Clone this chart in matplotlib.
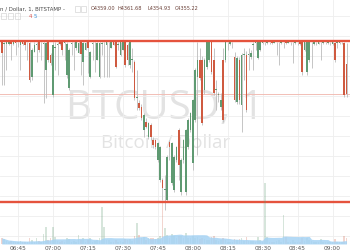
import matplotlib
matplotlib.use("Agg")
import matplotlib.pyplot as plt
import numpy as np
import pandas as pd

# 1-minute BTCUSD candles, 06:38 .. 09:06 (Bitstamp)
opens = [
    4361.7, 4361.5, 4361.5, 4361.5, 4361.7, 4361.5, 4361.7, 4361.7, 4361.4, 4361.7,
    4361.7, 4361.7, 4361.6, 4357.4, 4360.5, 4361.4, 4361.7, 4361.7, 4361.5, 4358.2,
    4361.7, 4360.1, 4355.1, 4361.0, 4361.4, 4361.7, 4361.7, 4361.6, 4357.6, 4356.0,
    4361.5, 4361.7, 4361.0, 4360.4, 4361.7, 4359.2, 4360.8, 4361.7, 4357.4, 4361.5,
    4361.7, 4359.5, 4357.4, 4361.5, 4361.7, 4361.4, 4361.7, 4361.0, 4361.7, 4361.7,
    4361.4, 4360.1, 4360.8, 4361.7, 4361.4, 4358.9, 4359.5, 4359.2, 4354.8, 4354.1,
    4353.6, 4350.8, 4351.8, 4349.9, 4351.4, 4349.5, 4349.5, 4347.0, 4344.5, 4344.5,
    4343.2, 4342.0, 4349.2, 4344.1, 4343.2, 4347.0, 4350.8, 4343.0, 4347.0, 4343.0,
    4348.6, 4350.8, 4346.6, 4352.0, 4357.4, 4359.5, 4359.5, 4355.8, 4358.6, 4359.5,
    4361.7, 4359.5, 4355.8, 4355.1, 4353.6, 4359.5, 4359.5, 4361.7, 4361.5, 4361.7,
    4359.9, 4354.2, 4359.5, 4353.9, 4360.1, 4360.1, 4360.1, 4359.9, 4361.4, 4361.6,
    4359.8, 4360.8, 4361.6, 4361.7, 4361.6, 4361.7, 4361.7, 4361.6, 4361.7, 4361.7,
    4361.6, 4361.7, 4361.7, 4361.6, 4361.7, 4361.7, 4361.6, 4361.7, 4361.7, 4361.7,
    4360.8, 4358.0, 4359.5, 4361.7, 4361.5, 4361.7, 4361.5, 4361.7, 4361.6, 4361.7,
    4361.6, 4361.7, 4361.5, 4361.6, 4361.6, 4361.6, 4361.7, 4361.6, 4359.00,
]
highs = [
    4361.7, 4361.7, 4361.7, 4361.7, 4361.7, 4361.7, 4361.7, 4361.7, 4361.7, 4361.7,
    4361.7, 4361.7, 4361.7, 4361.0, 4361.7, 4361.7, 4361.7, 4361.7, 4361.7, 4361.7,
    4361.7, 4360.4, 4361.7, 4361.7, 4361.7, 4361.7, 4361.7, 4361.7, 4361.7, 4361.0,
    4361.7, 4361.7, 4361.7, 4361.7, 4361.7, 4361.7, 4361.7, 4361.7, 4360.6, 4361.7,
    4361.7, 4361.7, 4361.7, 4361.7, 4361.7, 4361.7, 4361.7, 4361.7, 4361.7, 4361.7,
    4361.7, 4361.7, 4361.7, 4361.7, 4361.6, 4361.7, 4361.0, 4359.5, 4358.2, 4354.5,
    4354.0, 4352.9, 4352.2, 4351.8, 4351.6, 4349.9, 4349.6, 4349.3, 4348.8, 4344.8,
    4345.1, 4347.6, 4349.5, 4349.3, 4347.6, 4348.8, 4351.0, 4347.2, 4349.6, 4350.9,
    4352.2, 4353.0, 4354.6, 4358.5, 4361.7, 4361.0, 4360.0, 4359.8, 4361.7, 4361.7,
    4361.7, 4361.0, 4357.0, 4355.5, 4355.4, 4361.0, 4361.7, 4361.7, 4361.7, 4361.7,
    4360.5, 4360.0, 4359.9, 4360.4, 4361.0, 4360.6, 4361.0, 4360.8, 4361.7, 4361.7,
    4361.7, 4361.7, 4361.7, 4361.7, 4361.7, 4361.7, 4361.7, 4361.7, 4361.7, 4361.7,
    4361.7, 4361.7, 4361.7, 4361.7, 4361.7, 4361.7, 4361.7, 4361.7, 4361.7, 4361.7,
    4361.7, 4361.7, 4361.7, 4361.7, 4361.7, 4361.7, 4361.7, 4361.7, 4361.7, 4361.7,
    4361.7, 4361.7, 4361.7, 4361.7, 4361.7, 4361.7, 4361.7, 4361.7, 4361.68,
]
lows = [
    4356.4, 4356.4, 4358.2, 4361.4, 4359.5, 4361.4, 4360.1, 4361.1, 4358.2, 4361.4,
    4360.8, 4359.5, 4356.8, 4357.0, 4360.5, 4359.2, 4360.5, 4359.5, 4354.1, 4354.8,
    4359.2, 4358.9, 4354.9, 4358.2, 4357.6, 4361.4, 4360.1, 4359.5, 4357.2, 4355.8,
    4360.1, 4358.2, 4360.8, 4360.4, 4357.6, 4356.4, 4360.8, 4357.9, 4357.2, 4359.5,
    4358.0, 4359.5, 4357.2, 4360.1, 4357.4, 4357.4, 4357.4, 4361.0, 4361.4, 4358.5,
    4360.8, 4360.0, 4360.8, 4358.6, 4358.9, 4358.5, 4358.0, 4354.5, 4353.2, 4353.2,
    4352.0, 4349.9, 4351.0, 4349.6, 4349.5, 4348.5, 4348.4, 4346.8, 4344.2, 4342.0,
    4340.8, 4341.8, 4347.0, 4343.9, 4343.0, 4346.8, 4344.5, 4342.6, 4346.6, 4342.6,
    4348.4, 4350.5, 4345.8, 4351.8, 4347.6, 4357.0, 4351.4, 4355.2, 4358.4, 4359.2,
    4357.8, 4355.1, 4353.2, 4354.2, 4353.2, 4351.8, 4359.2, 4360.8, 4361.4, 4361.0,
    4354.2, 4354.0, 4354.0, 4350.5, 4357.0, 4353.0, 4358.2, 4359.6, 4358.2, 4360.8,
    4359.6, 4360.6, 4361.5, 4361.4, 4361.5, 4361.5, 4361.5, 4361.6, 4360.1, 4358.9,
    4361.5, 4361.0, 4361.5, 4361.6, 4361.4, 4359.1, 4361.5, 4361.4, 4361.4, 4357.6,
    4360.6, 4357.6, 4359.2, 4358.5, 4361.4, 4361.4, 4361.5, 4359.5, 4361.5, 4361.5,
    4361.5, 4361.4, 4361.4, 4359.2, 4361.0, 4361.5, 4361.5, 4354.9, 4354.93,
]
closes = [
    4360.4, 4361.5, 4361.7, 4361.7, 4361.5, 4361.7, 4361.6, 4361.7, 4361.7, 4361.5,
    4361.4, 4361.7, 4357.0, 4360.8, 4361.4, 4361.4, 4360.8, 4361.7, 4361.5, 4361.6,
    4359.5, 4359.1, 4361.4, 4361.0, 4361.4, 4361.5, 4360.8, 4361.6, 4361.5, 4360.8,
    4361.5, 4361.7, 4361.7, 4361.6, 4360.2, 4361.6, 4361.6, 4361.0, 4360.5, 4361.5,
    4361.7, 4361.6, 4361.6, 4361.5, 4361.7, 4361.7, 4361.7, 4361.7, 4361.4, 4358.6,
    4361.4, 4361.7, 4361.7, 4358.9, 4359.5, 4361.7, 4359.5, 4354.8, 4354.8, 4353.5,
    4352.2, 4352.6, 4351.1, 4351.6, 4349.9, 4348.9, 4348.6, 4349.1, 4348.6, 4343.5,
    4343.2, 4347.4, 4348.6, 4349.1, 4347.4, 4348.6, 4346.4, 4347.0, 4349.5, 4350.8,
    4352.0, 4352.9, 4354.5, 4358.2, 4359.5, 4357.2, 4351.6, 4359.5, 4361.7, 4361.7,
    4358.0, 4355.4, 4355.8, 4355.1, 4354.5, 4352.0, 4361.7, 4361.7, 4361.7, 4361.7,
    4354.5, 4359.8, 4354.5, 4360.1, 4360.1, 4353.2, 4360.1, 4360.4, 4361.4, 4361.6,
    4361.7, 4361.7, 4361.7, 4361.7, 4361.7, 4361.7, 4361.6, 4361.7, 4361.7, 4361.7,
    4361.7, 4361.7, 4361.6, 4361.7, 4361.7, 4361.7, 4361.7, 4361.7, 4361.5, 4358.0,
    4361.7, 4361.7, 4361.7, 4361.7, 4361.7, 4361.7, 4361.7, 4361.7, 4361.7, 4361.7,
    4361.7, 4361.7, 4361.7, 4359.5, 4361.6, 4361.7, 4361.7, 4355.1, 4355.22,
]
volumes = [
    3, 2.5, 1.5, 1, 1.5, 1, 1.2, 1, 1.5, 1,
    1.2, 1, 3, 2, 1, 3, 1.5, 1, 5, 8.5,
    2, 3, 8.5, 3.5, 1.5, 1, 1.5, 1, 3, 2.5,
    1, 1.5, 1, 4.5, 2, 3, 1, 2, 3, 1,
    1.5, 2, 3, 18.5, 8.5, 2, 2, 1, 1, 2,
    1, 1.5, 1, 2.5, 2, 2.5, 1.5, 4, 10.5, 4.5,
    3, 3.5, 2, 3, 3, 3, 2.5, 3, 4, 20.5,
    8, 4.5, 3, 5, 4, 3, 4, 4, 3, 5.5,
    3, 3, 4, 3, 3.5, 2.5, 3, 2.5, 2, 2,
    3.5, 4, 2, 1.5, 2, 3, 2, 1, 1, 1,
    2.5, 2, 2.5, 3, 1.5, 3.5, 1.5, 1.5, 1.5, 1,
    3.5, 2, 1, 30.5, 3.5, 1, 1, 1, 1.5, 2,
    1, 14.5, 3.5, 1, 1, 2, 1, 1, 1, 3,
    1.5, 3, 2, 1.5, 1, 1, 1, 2.5, 1, 1,
    1, 1, 1, 2.5, 1, 1, 1, 4, 3,
]
tick_labels = ["06:45", "07:00", "07:15", "07:30", "07:45",
               "08:00", "08:15", "08:30", "08:45", "09:00"]
resistance = 4361.9
support = 4341.75
last_close = 4355.22

UP = "#5f9a72"
DOWN = "#cf5a40"
LINE = "#e5533d"

df = pd.DataFrame({"open": opens, "high": highs, "low": lows, "close": closes, "vol": volumes},
                  index=pd.date_range("2017-09-01 06:38", periods=len(opens), freq="min"))
x = np.arange(len(df))
up = df["close"] >= df["open"]
colors = np.where(up, UP, DOWN)
body_lo = np.minimum(df["open"], df["close"])
body_h = np.maximum((df["close"] - df["open"]).abs(), 0.12)

fig = plt.figure(figsize=(3.5, 2.5), dpi=100)
ax = fig.add_axes([0, 6 / 250, 1, 244 / 250])
ax.set_xlim(-0.73, 149.5)
ax.set_ylim(4336.5, 4367)

# watermark
ax.text(70.1, 4353.4, "BTCUSD, 1", ha="center", va="center", fontsize=29,
        color="#e3e3e3", family="Open Sans", zorder=0.2)
ax.text(70.5, 4349.1, "Bitcoin / Dollar", ha="center", va="center", fontsize=13.5,
        color="#e3e3e3", family="Open Sans", zorder=0.2)

ax.vlines(x, df["low"], df["high"], color="#bcbcbc", lw=0.6, zorder=2)
ax.bar(x, body_h, bottom=body_lo, width=0.7, color=colors, lw=0, zorder=3)

ax.axhline(resistance, color=LINE, lw=1.7, zorder=4)
ax.axhline(support, color=LINE, lw=1.7, zorder=4)
ax.axhline(last_close, color="#f2beb6", lw=0.7, zorder=1)

tick_pos = [df.index.get_loc(pd.Timestamp("2017-09-01 " + t)) for t in tick_labels]
ax.set_xticks(tick_pos)
ax.set_xticklabels(tick_labels)
ax.set_yticks(np.arange(4337.5, 4367, 2.5))
ax.tick_params(axis="x", length=0, labelsize=4.2, colors="#555555", pad=1.5)
ax.tick_params(axis="y", length=0, labelleft=False)
ax.grid(True, color="#eeeeee", lw=0.6)
ax.set_axisbelow(True)
for s in ax.spines.values():
    s.set_visible(False)

# volume pane
vax = ax.twinx()
vax.set_ylim(0, 122)
vax.bar(x, df["vol"], width=0.7, color=colors, alpha=0.25, lw=0)
vol_ma = df["vol"].rolling(20, min_periods=1).mean()
vax.fill_between(x, 0, vol_ma, color="#a6d3f4", alpha=0.85, lw=0)
vax.set_yticks([])
for s in vax.spines.values():
    s.set_visible(False)

# header
fig.text(0.5 / 350, 1 - 9 / 250, "n / Dollar, 1, BITSTAMP -", ha="left", va="center",
         fontsize=3.9, color="#4a4a4a")
for xp, txt in [(91, "O4359.00"), (118, "H4361.68"), (147, "L4354.93"), (175, "C4355.22")]:
    fig.text(xp / 350, 1 - 9 / 250, txt, ha="left", va="center", fontsize=3.6, color="#6a4038")
for xp in (75, 81):
    fig.patches.append(plt.Rectangle((xp / 350, 1 - 11.5 / 250), 4.5 / 350, 5 / 250,
                                     transform=fig.transFigure, fill=False, ec="#cccccc", lw=0.4))
for xp in (1, 8, 15):
    fig.patches.append(plt.Rectangle((xp / 350, 1 - 18.5 / 250), 5 / 350, 5 / 250,
                                     transform=fig.transFigure, fill=False, ec="#cccccc", lw=0.4))
fig.text(29 / 350, 1 - 16 / 250, "4", fontsize=3.8, color="#d9534f", va="center")
fig.text(34 / 350, 1 - 16 / 250, "5", fontsize=3.8, color="#3d8fd8", va="center")

fig.savefig("out.png", dpi=100)
